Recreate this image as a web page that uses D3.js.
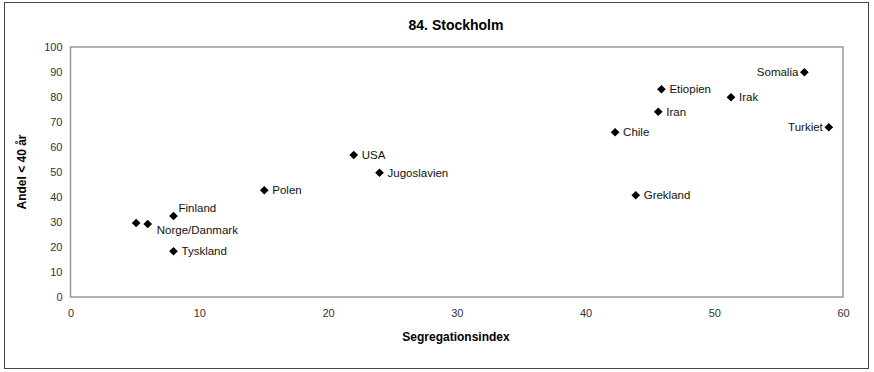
<!DOCTYPE html>
<html><head><meta charset="utf-8">
<script src="https://cdn.jsdelivr.net/npm/d3@7"></script>
<style>body{margin:0;background:#fff;font-family:"Liberation Sans",Arial,sans-serif;}</style>
</head><body>
<svg id="c" width="874" height="372"></svg>
<script>
const countries = ["Finland","Norge/Danmark (a)","Norge/Danmark","Tyskland","Polen","USA","Jugoslavien","Grekland","Chile","Iran","Etiopien","Irak","Somalia","Turkiet"];
const segIndex = [8.0, 5.1, 6.0, 8.0, 15.05, 22.0, 24.0, 43.9, 42.3, 45.65, 45.9, 51.3, 57.0, 58.9];
const shareUnder40 = [32.4, 29.6, 29.2, 18.3, 42.7, 56.8, 49.7, 40.7, 65.9, 74.1, 83.1, 79.9, 89.9, 67.9];
const labels = ["Finland","","Norge/Danmark","Tyskland","Polen","USA","Jugoslavien","Grekland","Chile","Iran","Etiopien","Irak","Somalia","Turkiet"];
const labelPos = ["above","none","below","right","right","right","right","right","right","right","right","right","left","left"];
const xTicks = [0,10,20,30,40,50,60];
const yTicks = [0,10,20,30,40,50,60,70,80,90,100];

const svg = d3.select("#c");
const m = {l:70.5, r:843, t:47, b:297};
const x = d3.scaleLinear().domain([0,60]).range([m.l, m.r]);
const y = d3.scaleLinear().domain([0,100]).range([m.b, m.t]);

// outer border
svg.append("rect").attr("x",4.5).attr("y",2.5).attr("width",864).attr("height",366)
  .attr("fill","#fff").attr("stroke","#444").attr("stroke-width",1);

// plot area
svg.append("rect").attr("x",m.l).attr("y",m.t).attr("width",m.r-m.l).attr("height",m.b-m.t)
  .attr("fill","none").attr("stroke","#999").attr("stroke-width",1.5);

// axes
const xa = svg.append("g").attr("transform",`translate(0,${m.b})`)
  .call(d3.axisBottom(x).tickValues(xTicks).tickSize(0).tickPadding(12));
const ya = svg.append("g").attr("transform",`translate(${m.l},0)`)
  .call(d3.axisLeft(y).tickValues(yTicks).tickSize(0).tickPadding(6));
[xa,ya].forEach(a=>{
  a.select(".domain").remove();
  a.selectAll("text").attr("font-family","Liberation Sans, Arial, sans-serif").attr("font-size",11).attr("fill","#333");
});
ya.selectAll("text").attr("x",-8);

// title & axis labels
svg.append("text").attr("x",456).attr("y",30).attr("text-anchor","middle")
  .attr("font-size",14).attr("font-weight","bold").text("84. Stockholm");
svg.append("text").attr("x",456).attr("y",341).attr("text-anchor","middle")
  .attr("font-size",12).attr("font-weight","bold").text("Segregationsindex");
svg.append("text").attr("transform","translate(26,172) rotate(-90)").attr("text-anchor","middle")
  .attr("font-size",12).attr("font-weight","bold").text("Andel < 40 år");

// points
const data = countries.map((c,i)=>({c, x:segIndex[i], y:shareUnder40[i], label:labels[i], pos:labelPos[i]}));
const sym = d3.symbol().type(d3.symbolSquare).size(38);
svg.selectAll("path.pt").data(data).enter().append("path").attr("class","pt")
  .attr("d", sym)
  .attr("transform", d=>`translate(${x(d.x)},${y(d.y)}) rotate(45)`)
  .attr("fill","#000");

svg.selectAll("text.lab").data(data.filter(d=>d.pos!=="none")).enter().append("text").attr("class","lab")
  .attr("font-size",11.5).attr("fill","#111")
  .attr("x", d=> d.pos==="left" ? x(d.x)-6 : d.pos==="below" ? x(d.x)+9 : d.pos==="above" ? x(d.x)+5 : x(d.x)+8)
  .attr("y", d=> d.pos==="above" ? y(d.y)-4 : d.pos==="below" ? y(d.y)+10 : y(d.y)+4)
  .attr("text-anchor", d=> d.pos==="left" ? "end" : "start")
  .text(d=>d.label);
</script>
</body></html>
